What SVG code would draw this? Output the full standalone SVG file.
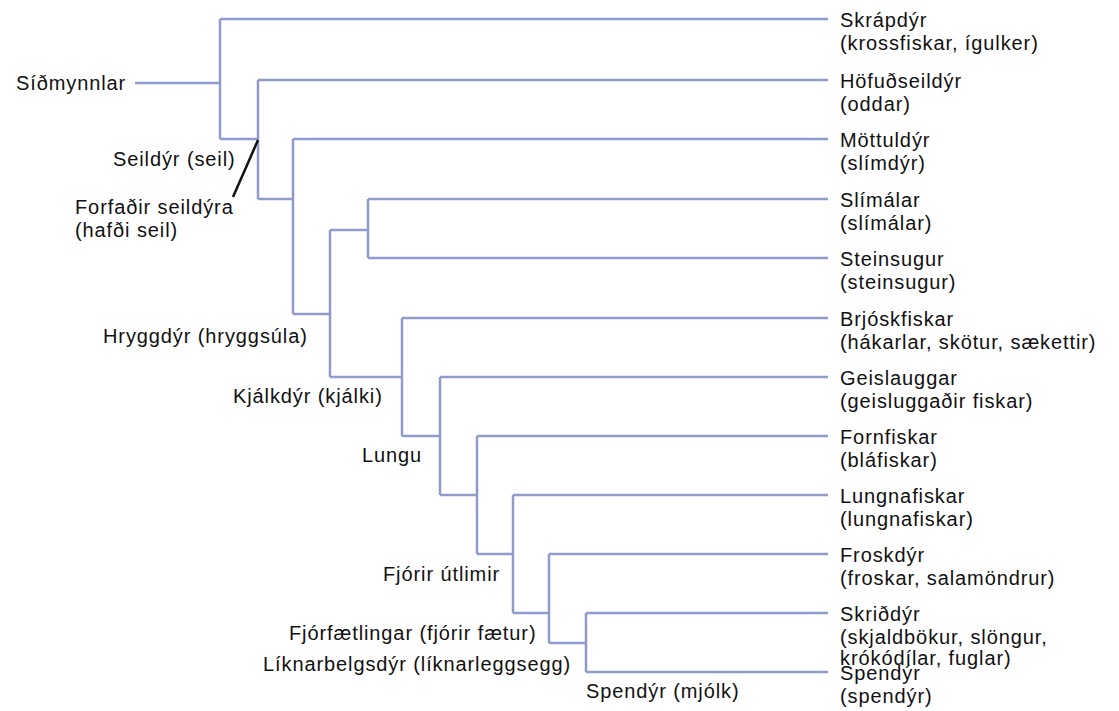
<svg xmlns="http://www.w3.org/2000/svg" width="1119" height="711" viewBox="0 0 1119 711">
<style>
.l{stroke:#8f9ccb;stroke-width:2.5;fill:none}
text{font-family:"Liberation Sans",Arial,sans-serif;font-size:20px;letter-spacing:0.9px;fill:#111}
</style>
<rect width="1119" height="711" fill="#fff"/>
<g id="connectors">
<path class="l" d="M135 83H220M220 19V139M220 19H828M220 139H258M258 80V199M258 80H828M258 199H293M293 139V314M293 139H828M293 314H330M330 230V377M330 230H368M368 199V258M368 199H828M368 258H828M330 377H402M402 318V436M402 318H828M402 436H440M440 377V495M440 377H828M440 495H477M477 436V554M477 436H828M477 554H513M513 495V613M513 495H828M513 613H549M549 554V643M549 554H828M549 643H586M586 613V672M586 613H828M586 672H828"/>
<path d="M258 140L233 197" stroke="#111" stroke-width="2.5"/>
</g>
<g id="internal">
<text x="16" y="90">Síðmynnlar</text>
<text x="113" y="166">Seildýr (seil)</text>
<text x="75" y="214">Forfaðir seildýra</text>
<text x="75" y="237">(hafði seil)</text>
<text x="103" y="343">Hryggdýr (hryggsúla)</text>
<text x="233" y="403">Kjálkdýr (kjálki)</text>
<text x="362" y="462">Lungu</text>
<text x="383" y="581">Fjórir útlimir</text>
<text x="289" y="640">Fjórfætlingar (fjórir fætur)</text>
<text x="263" y="671">Líknarbelgsdýr (líknarleggsegg)</text>
<text x="586" y="698">Spendýr (mjólk)</text>
</g>
<g id="leaves">
<text x="840" y="27">Skrápdýr</text><text x="840" y="50">(krossfiskar, ígulker)</text>
<text x="840" y="88">Höfuðseildýr</text><text x="840" y="111">(oddar)</text>
<text x="840" y="147">Möttuldýr</text><text x="840" y="170">(slímdýr)</text>
<text x="840" y="207">Slímálar</text><text x="840" y="230">(slímálar)</text>
<text x="840" y="266">Steinsugur</text><text x="840" y="289">(steinsugur)</text>
<text x="840" y="326">Brjóskfiskar</text><text x="840" y="349">(hákarlar, skötur, sækettir)</text>
<text x="840" y="385">Geislauggar</text><text x="840" y="408">(geisluggaðir fiskar)</text>
<text x="840" y="444">Fornfiskar</text><text x="840" y="467">(bláfiskar)</text>
<text x="840" y="503">Lungnafiskar</text><text x="840" y="526">(lungnafiskar)</text>
<text x="840" y="562">Froskdýr</text><text x="840" y="585">(froskar, salamöndrur)</text>
<text x="840" y="621">Skriðdýr</text><text x="840" y="644">(skjaldbökur, slöngur,</text><text x="840" y="665">krókódílar, fuglar)</text>
<text x="840" y="680">Spendýr</text><text x="840" y="703">(spendýr)</text>
</g>
</svg>
